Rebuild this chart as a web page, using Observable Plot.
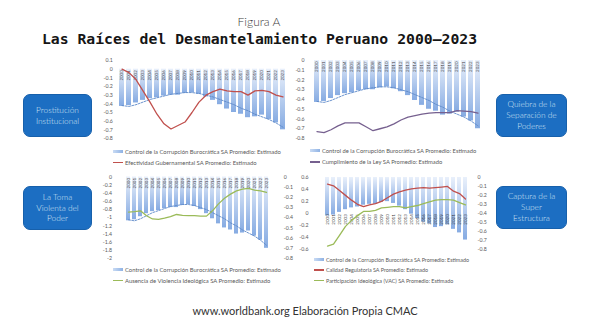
<!DOCTYPE html>
<html><head><meta charset="utf-8">
<script src="https://cdn.jsdelivr.net/npm/d3@7"></script>
<script src="https://cdn.jsdelivr.net/npm/@observablehq/plot@0.6"></script>
<style>
html,body{margin:0;padding:0;background:#fff;}
#root{position:relative;width:589px;height:331px;overflow:hidden;font-family:Lato,"Open Sans",sans-serif;}
#root svg{position:absolute;left:0;top:0;overflow:visible;}
.t{position:absolute;white-space:nowrap;}
.box{position:absolute;background:#1c6ec2;border:1px solid #1760ab;box-sizing:border-box;border-radius:7px;color:#d6e4f4;font:300 8.3px/10.8px Lato,sans-serif;display:flex;align-items:center;justify-content:center;text-align:center;}
.leg{position:absolute;font-family:Lato,sans-serif;font-weight:400;color:#595959;display:flex;align-items:center;white-space:nowrap;height:8px;line-height:8px;}
.sw{display:inline-block;width:10px;margin-right:2px;flex:none;}
</style></head><body><div id="root"></div>
<script>
// ---------- data ----------
const years = ["2000","2001","2002","2003","2004","2005","2006","2007","2008","2009","2010","2011",
               "2012","2013","2014","2015","2016","2017","2018","2019","2020","2021","2022","2023"];
const controlCorrupcion = [-0.43,-0.42,-0.39,-0.36,-0.34,-0.33,-0.31,-0.30,-0.30,-0.28,-0.27,-0.29,
                           -0.32,-0.36,-0.41,-0.46,-0.50,-0.52,-0.56,-0.55,-0.53,-0.58,-0.62,-0.70];
const tendencia = [-0.42,-0.43,-0.41,-0.38,-0.35,-0.33,-0.31,-0.29,-0.28,-0.27,-0.27,-0.28,
                   -0.30,-0.32,-0.35,-0.38,-0.41,-0.45,-0.48,-0.52,-0.55,-0.58,-0.62,-0.67];
const efectividad = [0.00,-0.04,-0.12,-0.25,-0.38,-0.52,-0.63,-0.69,-0.65,-0.61,-0.50,-0.38,
                     -0.30,-0.26,-0.23,-0.25,-0.26,-0.26,-0.30,-0.25,-0.245,-0.26,-0.30,-0.32];
const cumplimiento = [-0.73,-0.74,-0.71,-0.67,-0.64,-0.64,-0.64,-0.68,-0.72,-0.70,-0.68,-0.65,
                      -0.61,-0.58,-0.565,-0.55,-0.54,-0.535,-0.535,-0.535,-0.515,-0.52,-0.525,-0.54];
const ausenciaViolencia = [-0.86,-0.85,-0.83,-0.95,-1.03,-1.04,-1.01,-0.97,-0.92,-0.94,-0.95,-0.95,
                           -0.96,-0.96,-0.83,-0.66,-0.52,-0.42,-0.34,-0.30,-0.28,-0.32,-0.34,-0.38];
const calidadRegulatoria = [0.49,0.46,0.38,0.30,0.22,0.15,0.11,0.14,0.16,0.20,0.26,0.32,
                            0.36,0.39,0.41,0.42,0.43,0.42,0.43,0.44,0.45,0.37,0.33,0.24];
const participacion = [-0.55,-0.52,-0.37,-0.22,-0.12,-0.04,0.03,0.03,0.05,0.09,0.10,0.11,
                       0.11,0.09,0.11,0.13,0.16,0.19,0.22,0.23,0.23,0.22,0.18,0.14];
const ticksP1 = [0.1,0,-0.1,-0.2,-0.3,-0.4,-0.5,-0.6,-0.7,-0.8];
const ticksP2 = [0,-0.1,-0.2,-0.3,-0.4,-0.5,-0.6,-0.7,-0.8];
const ticksP3L = [0,-0.2,-0.4,-0.6,-0.8,-1,-1.2,-1.4,-1.6,-1.8,-2];
const ticksP4L = [0.6,0.4,0.2,0,-0.2,-0.4,-0.6];
const serieCC = "Control de la Corrupción Burocrática SA Promedio: Estimado";

const rows = years.map((year, i) => ({
  year, cc: controlCorrupcion[i], t: tendencia[i], ef: efectividad[i], cu: cumplimiento[i],
  av: ausenciaViolencia[i], cr: calidadRegulatoria[i], pa: participacion[i]
}));

// ---------- helpers ----------
const W = 589, H = 331;
const root = document.getElementById("root");
const RED = "#c0504d", PURPLE = "#76608f", GREEN = "#9bbb59", TREND = "#5d89c8";
function fmt(d) { return d === 0 ? "0" : String(Math.round(d * 10) / 10); }
let gid = 0;
function layer(o) {
  const id = "grad" + (gid++);
  const marks = o.marks(`url(#${id})`);
  const all = [];
  if (o.ticks) all.push(Plot.axisY(o.ticks, {anchor: o.anchor, label: null, tickSize: 0, tickPadding: o.pad, fontSize: 5.2, tickFormat: fmt}));
  all.push(...marks);
  const svg = Plot.plot({
    width: W, height: H,
    marginLeft: o.x0, marginRight: W - o.x1, marginTop: o.top, marginBottom: H - o.bottom,
    x: {type: "band", domain: years, padding: 0.35, axis: null, label: null},
    y: {domain: o.domain, axis: null, label: null},
    style: {background: "transparent", color: "#595959", fontFamily: "Lato, sans-serif", overflow: "visible"},
    marks: all
  });
  const defs = d3.select(svg).insert("defs", ":first-child");
  const g = defs.append("linearGradient").attr("id", id).attr("x1", 0).attr("y1", 0).attr("x2", 0).attr("y2", 1);
  g.append("stop").attr("offset", "0%").attr("stop-color", "#e9f0fb");
  g.append("stop").attr("offset", "100%").attr("stop-color", "#86abe2");
  root.appendChild(svg);
}
const bars = (key, grad) => Plot.barY(rows, {x: "year", y1: 0, y2: key, fill: grad});
const yearLabels = (y) => Plot.text(rows, {x: "year", y: () => y, text: "year", rotate: -90, textAnchor: "end", fontSize: 4.5, fill: "#3f3f3f", dy: 1});
const trend = Plot.line(rows, {x: "year", y: "t", stroke: TREND, strokeWidth: 0.9, strokeDasharray: "2,1.3"});
const line = (key, color) => Plot.line(rows, {x: "year", y: key, stroke: color, strokeWidth: 1.3, strokeLinejoin: "round"});

// ---------- panel 1 ----------
layer({x0: 115.2, x1: 288.8, top: 60, bottom: 138, domain: [-0.8, 0.1], ticks: ticksP1, anchor: "left", pad: 3,
  marks: grad => [bars("cc", grad), yearLabels(0), trend, line("ef", RED)]});
// ---------- panel 2 ----------
layer({x0: 309.1, x1: 484.9, top: 60, bottom: 138, domain: [-0.8, 0], ticks: ticksP2, anchor: "left", pad: 5,
  marks: grad => [bars("cc", grad), yearLabels(0), trend, line("cu", PURPLE)]});
// ---------- panel 3 ----------
layer({x0: 114.4, x1: 280.3, top: 176.5, bottom: 258, domain: [-0.8, 0], ticks: ticksP2, anchor: "right", pad: 3,
  marks: grad => [bars("cc", grad), yearLabels(0), trend]});
layer({x0: 114.4, x1: 280.3, top: 176.5, bottom: 258, domain: [-2, 0], ticks: ticksP3L, anchor: "left", pad: 3,
  marks: grad => [line("av", GREEN)]});
// ---------- panel 4 ----------
layer({x0: 318, x1: 474, top: 177, bottom: 248.5, domain: [-0.8, 0], ticks: ticksP2, anchor: "right", pad: 3,
  marks: grad => [bars("cc", grad)]});
layer({x0: 318, x1: 474, top: 177, bottom: 248.5, domain: [-0.6, 0.6], ticks: ticksP4L, anchor: "left", pad: 10,
  marks: grad => [yearLabels(0), line("cr", RED), line("pa", GREEN)]});

// ---------- legends (font fitted so the first entry spans the reference width) ----------
function legendGroup(x, ys, items, targetWidth) {
  const texts = [];
  items.forEach((it, i) => {
    const d = document.createElement("div");
    d.className = "leg";
    d.style.left = x + "px"; d.style.top = (ys[i] - 4) + "px";
    const s = document.createElement("span");
    s.className = "sw";
    if (it.kind === "bar") { s.style.height = "3px"; s.style.background = "linear-gradient(90deg,#c9dbf4,#8fb2e4)"; }
    else { s.style.height = "1.2px"; s.style.background = it.color; }
    const t = document.createElement("span");
    t.textContent = it.label;
    d.appendChild(s); d.appendChild(t);
    root.appendChild(d);
    texts.push(d);
  });
  let fs = 6;
  for (let k = 0; k < 4; k++) {
    texts.forEach(d => d.style.fontSize = fs + "px");
    const w = texts[0].lastChild.getBoundingClientRect().width;
    fs = fs * targetWidth / w;
  }
  texts.forEach(d => d.style.fontSize = fs + "px");
}
legendGroup(113, [151.5, 162.5], [{label: serieCC, kind: "bar"},
  {label: "Efectividad Gubernamental SA Promedio: Estimado", color: RED}], 156);
legendGroup(310, [150.5, 162], [{label: serieCC, kind: "bar"},
  {label: "Cumplimiento de la Ley SA Promedio: Estimado", color: PURPLE}], 154);
legendGroup(113, [269.5, 280.5], [{label: serieCC, kind: "bar"},
  {label: "Ausencia de Violencia Ideológica SA Promedio: Estimado", color: GREEN}], 156);
legendGroup(314, [259.5, 270, 280.5], [{label: serieCC, kind: "bar"},
  {label: "Calidad Regulatoria SA Promedio: Estimado", color: RED},
  {label: "Participación Ideológica (VAC) SA Promedio: Estimado", color: GREEN}], 143);

// ---------- titles, boxes, caption ----------
root.insertAdjacentHTML("beforeend", `
<div class="t" style="left:0;width:518px;text-align:center;top:14px;font:300 12px/16px Lato,sans-serif;color:#404040">Figura A</div>
<div class="t" style="left:0;width:519px;text-align:center;top:29.5px;font:700 14.75px/18px 'DejaVu Sans Mono',monospace;color:#151515">Las Raíces del Desmantelamiento Peruano 2000–2023</div>
<div class="box" style="left:23px;top:94px;width:69px;height:43px">Prostitución<br>Institucional</div>
<div class="box" style="left:23px;top:186px;width:69px;height:44px">La Toma<br>Violenta del<br>Poder</div>
<div class="box" style="left:496px;top:94px;width:71px;height:43px">Quiebra de la<br>Separación de<br>Poderes</div>
<div class="box" style="left:496px;top:186px;width:71px;height:43px">Captura de la<br>Super<br>Estructura</div>
<div class="t" style="left:0;width:610px;text-align:center;top:303.5px;font:400 11px/14px Lato,sans-serif;color:#333">www.worldbank.org Elaboración Propia CMAC</div>
`);
</script>
</body></html>
